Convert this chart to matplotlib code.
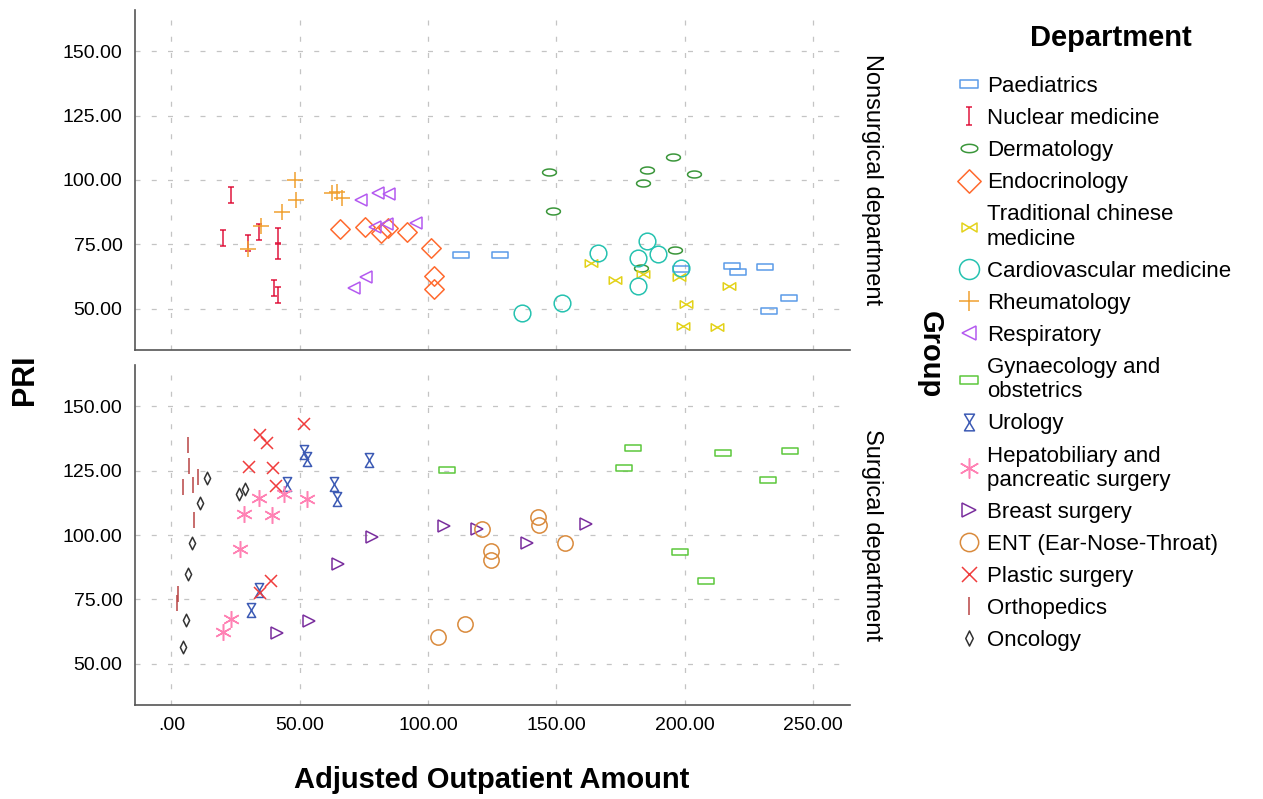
import numpy as np
import matplotlib
matplotlib.use("Agg")
import matplotlib.pyplot as plt
from matplotlib.path import Path
from matplotlib.lines import Line2D

plt.rcParams['font.family'] = ['Liberation Sans', 'DejaVu Sans']

# ---- data ----
x_ticks = [0, 50, 100, 150, 200, 250]
x_tick_labels = ['.00', '50.00', '100.00', '150.00', '200.00', '250.00']
y_ticks = [50, 75, 100, 125, 150]
y_tick_labels = ['50.00', '75.00', '100.00', '125.00', '150.00']
groups = ['Nonsurgical department', 'Surgical department']

# nonsurgical
paed_x = [112.7, 128.0, 198.6, 218.5, 220.7, 231.3, 240.5, 233.0]
paed_y = [70.7, 70.7, 65.5, 66.7, 64.2, 66.4, 54.0, 49.0]
nucl_x = [23.1, 20.2, 29.9, 34.1, 41.4, 41.4, 40.1, 41.4]
nucl_y = [94.2, 77.4, 75.6, 80.0, 78.4, 72.5, 58.0, 55.2]
derm_x = [147.2, 148.6, 185.2, 183.9, 195.3, 203.7, 196.2, 182.9]
derm_y = [103.2, 88.0, 103.9, 99.0, 109.0, 102.2, 72.9, 65.8]
endo_x = [65.7, 75.4, 81.6, 84.5, 91.7, 101.1, 102.3, 102.3]
endo_y = [81.1, 81.7, 79.6, 81.3, 80.0, 73.5, 62.8, 57.6]
tcm_x = [163.4, 172.8, 183.9, 197.9, 217.1, 200.5, 199.2, 212.7]
tcm_y = [67.7, 61.2, 63.6, 62.5, 59.0, 51.9, 43.4, 42.9]
cardio_x = [136.5, 152.1, 166.3, 185.2, 181.9, 189.7, 181.7, 198.6]
cardio_y = [48.3, 52.2, 71.8, 76.5, 69.7, 71.3, 59.0, 65.8]
rheum_x = [29.9, 34.9, 42.9, 48.5, 48.1, 62.4, 64.4, 66.3]
rheum_y = [73.1, 82.2, 87.7, 92.2, 100.0, 95.1, 95.5, 92.9]
resp_x = [73.9, 80.6, 84.8, 79.3, 83.9, 95.2, 75.7, 71.2]
resp_y = [92.2, 94.8, 94.6, 81.7, 83.0, 83.5, 62.3, 58.1]

# surgical
gyn_x = [107.5, 180.0, 176.3, 214.8, 241.0, 232.6, 198.2, 208.3]
gyn_y = [125.3, 133.9, 126.1, 131.8, 132.6, 121.2, 93.3, 82.0]
uro_x = [51.8, 52.7, 45.1, 63.4, 64.6, 77.1, 34.1, 31.0]
uro_y = [132.4, 129.6, 119.9, 119.9, 114.1, 129.0, 78.5, 70.7]
hep_x = [34.1, 44.0, 52.7, 28.4, 39.0, 26.7, 23.1, 20.2]
hep_y = [114.5, 116.0, 114.1, 108.3, 107.9, 94.7, 67.5, 62.3]
breast_x = [78.3, 64.8, 53.6, 41.0, 106.3, 118.9, 138.7, 161.5]
breast_y = [99.4, 88.8, 66.8, 61.9, 103.6, 102.4, 97.0, 104.1]
ent_x = [120.9, 142.9, 143.3, 153.5, 124.4, 124.4, 114.4, 104.0]
ent_y = [102.2, 106.9, 104.0, 97.0, 93.7, 90.4, 65.3, 60.3]
plast_x = [51.8, 34.5, 37.1, 30.2, 39.4, 40.7, 38.8, 34.5]
plast_y = [143.2, 138.7, 135.7, 126.3, 126.1, 119.2, 82.1, 77.4]
ortho_x = [6.5, 6.9, 4.6, 8.5, 10.2, 8.9, 2.4, 2.0]
ortho_y = [134.8, 126.6, 118.6, 119.6, 122.5, 105.7, 77.2, 73.5]
onco_x = [13.7, 26.3, 28.6, 11.1, 8.1, 6.5, 5.5, 4.4]
onco_y = [122.2, 116.0, 118.0, 112.4, 97.0, 85.0, 67.1, 56.4]

# ---- marker shapes ----
M, L, C = Path.MOVETO, Path.LINETO, Path.CLOSEPOLY
rect = Path([(-1, -0.42), (1, -0.42), (1, 0.42), (-1, 0.42), (-1, -0.42)], [M, L, L, L, C])
ibeam = Path([(0, -1), (0, 1), (-0.38, 1), (0.38, 1), (-0.38, -1), (0.38, -1)], [M, L, M, L, M, L])
t = np.linspace(0, 2 * np.pi, 41)
ellipse = Path(np.column_stack([np.cos(t), 0.5 * np.sin(t)]))
diamond = Path([(0, 1), (1, 0), (0, -1), (-1, 0), (0, 1)], [M, L, L, L, C])
bowtie = Path([(-1, 0.6), (1, -0.6), (1, 0.6), (-1, -0.6), (-1, 0.6)], [M, L, L, L, C])
hourglass = Path([(-0.6, 1), (0.6, 1), (-0.6, -1), (0.6, -1), (-0.6, 1)], [M, L, L, L, C])
thin_d = Path([(0, 1), (0.5, 0), (0, -1), (-0.5, 0), (0, 1)], [M, L, L, L, C])

# label, x, y, marker, size, colour, panel
series = [
    ('Paediatrics', paed_x, paed_y, rect, 11, '#5B9BE8', 0),
    ('Nuclear medicine', nucl_x, nucl_y, ibeam, 11, '#E0173F', 0),
    ('Dermatology', derm_x, derm_y, ellipse, 10, '#3A963A', 0),
    ('Endocrinology', endo_x, endo_y, diamond, 14, '#FF6A2E', 0),
    ('Traditional chinese\nmedicine', tcm_x, tcm_y, bowtie, 9, '#E3D21A', 0),
    ('Cardiovascular medicine', cardio_x, cardio_y, 'o', 12, '#26C2B0', 0),
    ('Rheumatology', rheum_x, rheum_y, '+', 12, '#F0A030', 0),
    ('Respiratory', resp_x, resp_y, '<', 8, '#B45AF0', 0),
    ('Gynaecology and\nobstetrics', gyn_x, gyn_y, rect, 11, '#5CC83C', 1),
    ('Urology', uro_x, uro_y, hourglass, 10, '#3C5AB4', 1),
    ('Hepatobiliary and\npancreatic surgery', hep_x, hep_y, (6, 2, 0), 12, '#FF82B4', 1),
    ('Breast surgery', breast_x, breast_y, '>', 8, '#7A2E9E', 1),
    ('ENT (Ear-Nose-Throat)', ent_x, ent_y, 'o', 11, '#D98A3C', 1),
    ('Plastic surgery', plast_x, plast_y, 'x', 9, '#F03C3C', 1),
    ('Orthopedics', ortho_x, ortho_y, '|', 11, '#B84444', 1),
    ('Oncology', onco_x, onco_y, thin_d, 9, '#333333', 1),
]

fig = plt.figure(figsize=(12.63, 7.99), dpi=100)
W, H = 1263, 799
ax_top = fig.add_axes([135 / W, 1 - 350 / H, 715 / W, 340 / H])
ax_bot = fig.add_axes([135 / W, 1 - 705 / H, 715 / W, 340 / H])
axes = [ax_top, ax_bot]

for ax in axes:
    ax.set_xlim(-14.2, 264.4)
    ax.set_ylim(34, 166)
    ax.set_xticks(x_ticks)
    ax.set_yticks(y_ticks)
    ax.set_yticklabels(y_tick_labels, fontsize=14)
    ax.tick_params(length=0, pad=9)
    ax.grid(True, color='#c4c4c4', linestyle=(0, (4, 9)), linewidth=0.9)
    ax.set_axisbelow(True)
    for s in ['top', 'right']:
        ax.spines[s].set_visible(False)
    for s in ['left', 'bottom']:
        ax.spines[s].set_color('#555555')
        ax.spines[s].set_linewidth(1.2)
ax_top.set_xticklabels([])
ax_bot.set_xticklabels(x_tick_labels, fontsize=14)

handles = []
for label, xs, ys, mk, ms, col, panel in series:
    axes[panel].plot(xs, ys, linestyle='none', marker=mk, markersize=ms,
                     markerfacecolor='none', markeredgecolor=col, color=col,
                     markeredgewidth=1.1)
    handles.append(Line2D([], [], linestyle='none', marker=mk, markersize=ms * 1.2,
                          markerfacecolor='none', markeredgecolor=col, color=col,
                          markeredgewidth=1.1, label=label))

fig.text(872 / W, 1 - 180 / H, groups[0], rotation=-90, ha='center', va='center', fontsize=17)
fig.text(872 / W, 1 - 535 / H, groups[1], rotation=-90, ha='center', va='center', fontsize=17)
fig.text(930 / W, 1 - 355 / H, 'Group', rotation=-90, ha='center', va='center',
         fontsize=21, fontweight='bold')
fig.text(25 / W, 1 - 380 / H, 'PRI', rotation=90, ha='center', va='center',
         fontsize=22, fontweight='bold')
fig.text(492 / W, 1 - 780 / H, 'Adjusted Outpatient Amount', ha='center', va='center',
         fontsize=21, fontweight='bold')

# legend title drawn on its own so the gap to the first entry matches
fig.text(1111 / W, 1 - 38 / H, 'Department', ha='center', va='center',
         fontsize=21, fontweight='bold')
leg = fig.legend(handles=handles, loc='upper left', bbox_to_anchor=(957 / W, 1 - 76 / H),
                 frameon=False, fontsize=16,
                 handlelength=1.1, handletextpad=0.25, labelspacing=0.5,
                 borderaxespad=0, borderpad=0)
for txt in leg.get_texts():
    txt.set_linespacing(1.2)

fig.savefig('out.png', dpi=100)
